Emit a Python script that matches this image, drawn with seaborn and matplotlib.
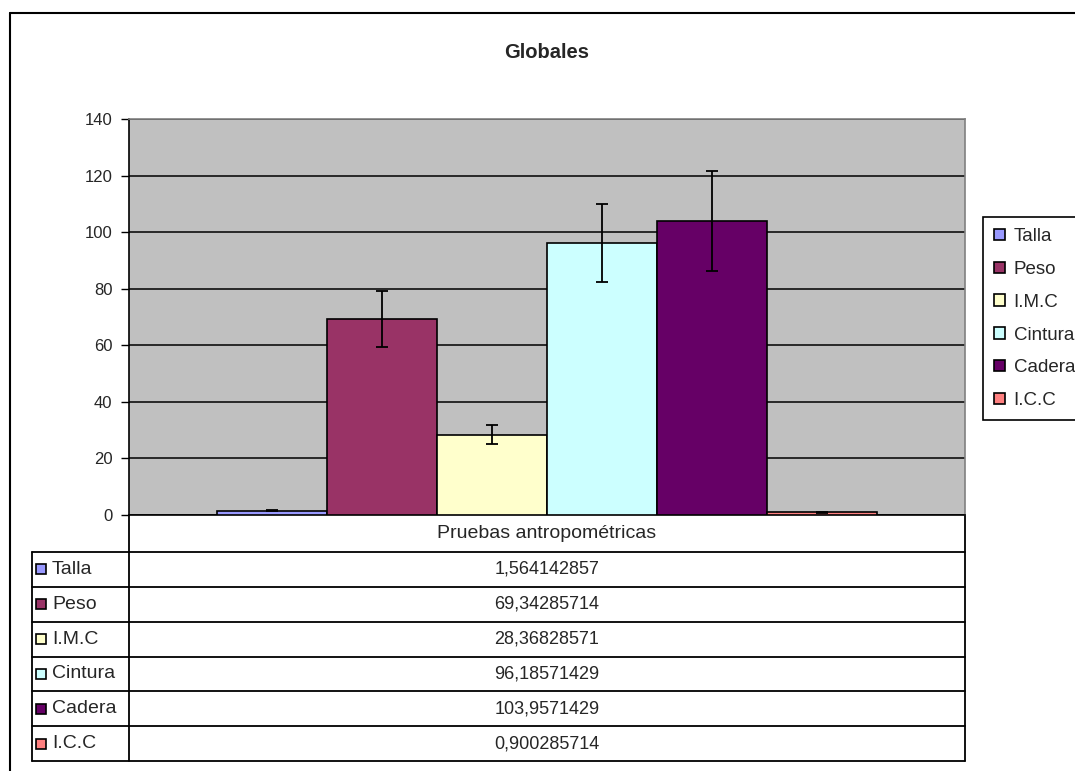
import matplotlib
matplotlib.use("Agg")
import matplotlib.pyplot as plt
import matplotlib.patches as mpatches
import pandas as pd
import seaborn as sns

# data
categorias = ["Talla", "Peso", "I.M.C", "Cintura", "Cadera", "I.C.C"]
medias = [1.564142857, 69.34285714, 28.36828571, 96.18571429, 103.9571429, 0.900285714]
desv = [0.07, 9.9, 3.3, 13.8, 17.8, 0.08]
colores = ["#9999FF", "#993366", "#FFFFCC", "#CCFFFF", "#660066", "#FF8080"]
grupo = "Pruebas antropométricas"
yticks = [0, 20, 40, 60, 80, 100, 120, 140]

df = pd.DataFrame({"grupo": grupo, "prueba": categorias, "valor": medias})

sns.set_style("white")
plt.rcParams["font.family"] = ["Liberation Sans", "DejaVu Sans"]
plt.rcParams["font.size"] = 10

W, H = 1075, 771
fig = plt.figure(figsize=(W / 100, H / 100), dpi=100)

def px(x0, y0, x1, y1):
    return [x0 / W, 1 - y1 / H, (x1 - x0) / W, (y1 - y0) / H]

# overlay for the outer frame and the data table (pixel coordinates)
ov = fig.add_axes([0, 0, 1, 1])
ov.set_xlim(0, W)
ov.set_ylim(H, 0)
ov.axis("off")

ax = fig.add_axes(px(129, 119, 965, 515))
sns.barplot(data=df, x="grupo", y="valor", hue="prueba", palette=colores,
            hue_order=categorias, width=0.79, gap=0, edgecolor="black",
            linewidth=1.2, saturation=1, errorbar=None, ax=ax, zorder=3)

# error bars at bar centres
bars = [p for p in ax.patches if isinstance(p, mpatches.Rectangle)][:len(categorias)]
for b, m, s in zip(bars, medias, desv):
    ax.errorbar(b.get_x() + b.get_width() / 2, m, yerr=s, fmt="none",
                ecolor="black", elinewidth=1.3, capsize=4.5, capthick=1.3, zorder=4)

ax.set_facecolor("#C0C0C0")
ax.set_ylim(0, 140)
ax.set_xlim(-0.5, 0.5)
ax.set_yticks(yticks)
ax.set_xticks([])
ax.set_xlabel("")
ax.set_ylabel("")
ax.yaxis.grid(True, color="black", linewidth=1.1)
ax.set_axisbelow(True)
ax.tick_params(axis="y", direction="out", length=6, width=1, color="black",
               left=True, pad=6, labelsize=12)
for s in ["left", "bottom"]:
    ax.spines[s].set_color("black")
    ax.spines[s].set_linewidth(1.2)
for s in ["top", "right"]:
    ax.spines[s].set_color("#808080")
    ax.spines[s].set_linewidth(1.2)

handles, labels = ax.get_legend_handles_labels()
ax.legend(handles, labels, loc="upper left",
          bbox_to_anchor=(983 / W, 1 - 217 / H), bbox_transform=fig.transFigure,
          frameon=True, fancybox=False, edgecolor="black", framealpha=1,
          fontsize=13.5, handlelength=0.58, handleheight=0.58, handletextpad=0.45,
          labelspacing=0.84, borderpad=0.6, borderaxespad=0)
ax.get_legend().get_frame().set_linewidth(1.2)

fig.text(547 / W, 1 - 52 / H, "Globales", ha="center", va="center",
         fontsize=14.5, fontweight="bold")

# outer frame
ov.plot([10, W], [13, 13], color="black", lw=1.5)
ov.plot([10, 10], [13, H], color="black", lw=1.5)

# data table
top, bottom = 552, 761
rh = (bottom - top) / len(categorias)
lc = dict(color="black", lw=1.3)
ov.plot([129, 129], [515, bottom], **lc)
ov.plot([965, 965], [515, bottom], **lc)
ov.plot([32, 32], [top, bottom], **lc)
for i in range(len(categorias) + 1):
    y = top + i * rh
    ov.plot([32, 965], [y, y], **lc)
ov.text(547, (515 + top) / 2, grupo, ha="center", va="center", fontsize=14)
for i, (c, v, col) in enumerate(zip(categorias, medias, colores)):
    yc = top + (i + 0.5) * rh
    ov.add_patch(mpatches.Rectangle((36, yc - 5), 10, 10, facecolor=col,
                                    edgecolor="black", lw=1.2))
    ov.text(52, yc, c, ha="left", va="center", fontsize=14)
    ov.text(547, yc, f"{v:.10g}".replace(".", ","), ha="center", va="center",
            fontsize=13)

fig.savefig("out.png", dpi=100)
